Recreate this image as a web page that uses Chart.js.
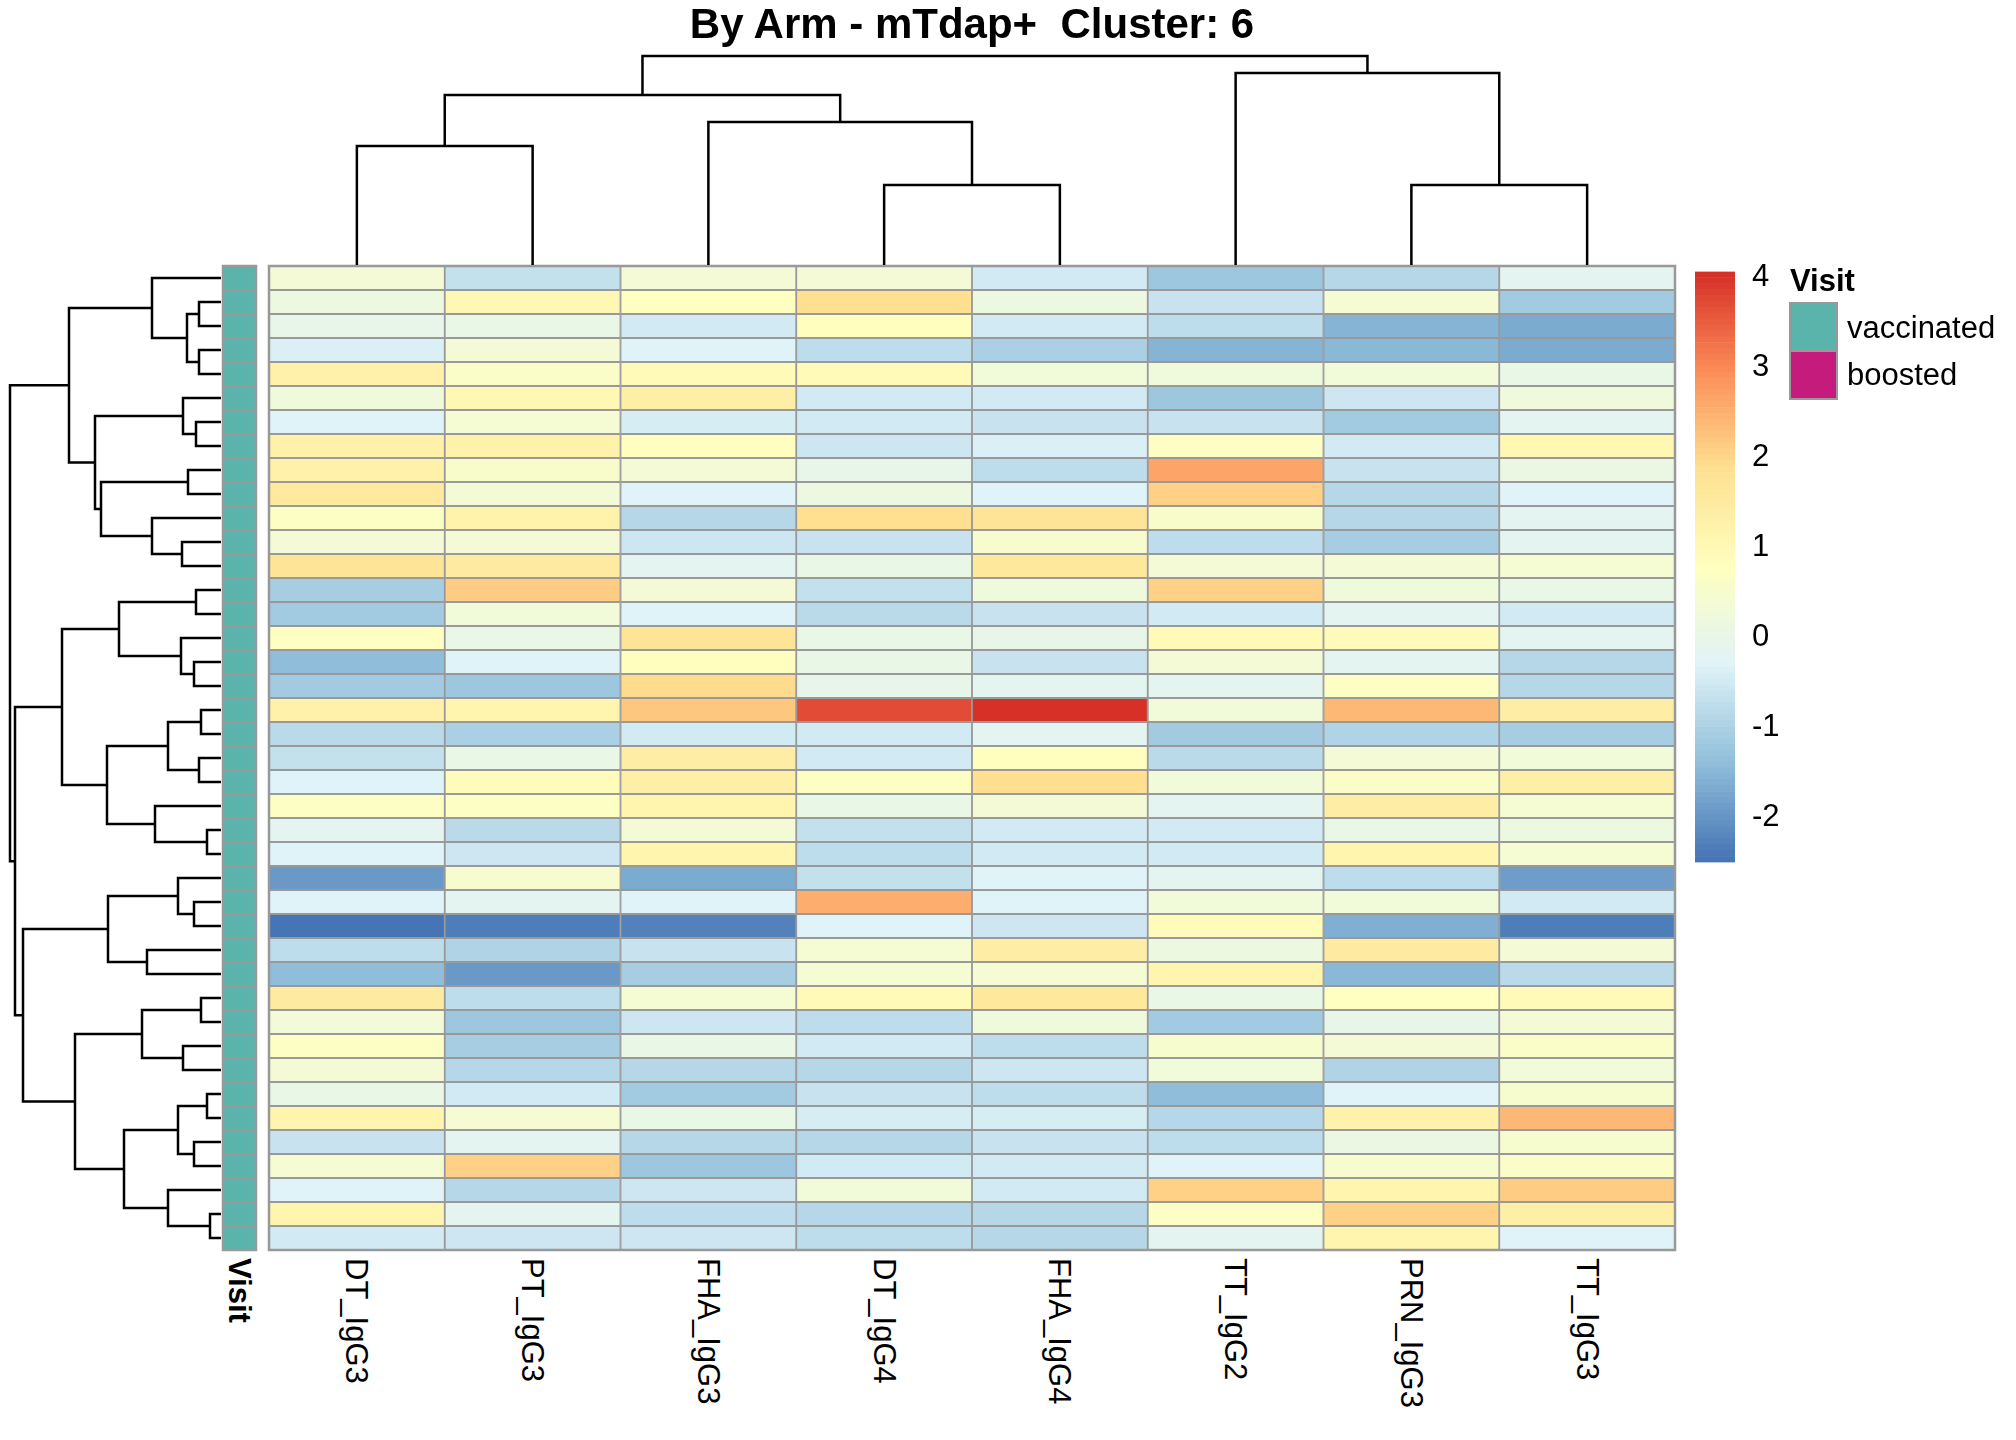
<!DOCTYPE html>
<html><head><meta charset="utf-8">
<script src="https://cdn.jsdelivr.net/npm/chart.js@4.4.1/dist/chart.umd.min.js"></script>
<style>
html,body{margin:0;padding:0;background:#fff;}
body{width:2016px;height:1440px;position:relative;overflow:hidden;font-family:"Liberation Sans",Arial,sans-serif;color:#000;}
.box{position:absolute;}
canvas{display:block;}
.t{position:absolute;white-space:pre;color:#000;}
.vlab{position:absolute;writing-mode:vertical-rl;font-size:31px;line-height:31px;white-space:pre;color:#000;}
</style></head><body>
<script>
// ---------------- data ----------------
const title = 'By Arm - mTdap+  Cluster: 6';
const columns = ['DT_IgG3','PT_IgG3','FHA_IgG3','DT_IgG4','FHA_IgG4','TT_IgG2','PRN_IgG3','TT_IgG3'];
const DT_IgG3  = [0.33,0.18,-0.07,-0.39,1.27,0.20,-0.32,1.27,1.27,1.55,0.69,0.33,1.76,-1.12,-1.17,0.76,-1.44,-1.18,1.27,-0.84,-0.70,-0.31,0.69,-0.14,-0.31,-1.97,-0.31,-2.49,-0.79,-1.44,1.45,0.27,0.69,0.37,0.05,1.13,-0.66,0.43,-0.31,1.13,-0.47];
const PT_IgG3  = [-0.70,1.03,0.05,0.33,0.64,1.03,0.39,1.24,0.58,0.37,1.20,0.37,1.45,2.11,0.27,0.05,-0.31,-1.25,1.13,-1.03,0.05,0.89,0.69,-0.84,-0.59,0.50,-0.14,-2.36,-0.99,-1.93,-0.79,-1.22,-1.06,-0.91,-0.47,0.43,-0.14,2.04,-0.91,-0.14,-0.59];
const FHA_IgG3 = [0.33,0.76,-0.51,-0.32,0.96,1.31,-0.42,0.79,0.33,-0.31,-0.92,-0.59,-0.18,0.33,-0.31,1.73,0.79,1.92,2.20,-0.51,1.38,1.34,1.13,0.37,1.13,-1.70,-0.31,-2.24,-0.62,-1.06,0.43,-0.59,0.05,-0.91,-1.13,0.05,-0.91,-1.25,-0.59,-0.79,-0.59];
const DT_IgG4  = [0.33,1.85,0.80,-0.77,0.96,-0.47,-0.50,-0.59,-0.01,0.18,1.85,-0.66,0.05,-0.70,-0.84,0.05,0.05,-0.07,3.69,-0.51,-0.47,0.69,0.05,-0.70,-0.79,-0.70,2.52,-0.31,0.43,0.43,0.96,-0.79,-0.47,-0.91,-0.66,-0.42,-0.91,-0.47,0.27,-0.91,-0.79];
const FHA_IgG4 = [-0.51,0.18,-0.51,-1.02,0.27,-0.47,-0.62,-0.35,-0.76,-0.31,1.76,0.50,1.59,0.20,-0.62,-0.01,-0.62,-0.14,4.06,-0.18,0.82,1.85,0.33,-0.47,-0.47,-0.31,-0.31,-0.59,1.38,0.40,1.59,0.20,-0.79,-0.59,-0.76,-0.42,-0.66,-0.47,-0.47,-0.91,-0.91];
const TT_IgG2  = [-1.22,-0.62,-0.77,-1.57,0.20,-1.22,-0.62,0.69,2.64,2.04,0.58,-0.79,0.37,2.04,-0.47,0.92,0.37,-0.14,0.27,-1.13,-0.84,0.27,-0.18,-0.51,-0.51,-0.14,0.27,0.89,0.13,1.13,0.05,-1.18,0.50,0.27,-1.40,-0.91,-0.79,-0.31,2.04,0.69,-0.14];
const PRN_IgG3 = [-0.92,0.39,-1.57,-1.49,0.27,-0.59,-1.18,-0.47,-0.62,-0.91,-0.91,-1.06,0.37,0.20,-0.14,0.89,-0.14,0.69,2.39,-0.99,0.33,0.64,1.38,0.05,1.13,-0.79,0.27,-1.63,1.45,-1.50,0.78,-0.01,0.37,-0.99,-0.31,1.20,0.09,0.50,1.13,2.04,1.13];
const TT_IgG3  = [-0.14,-1.18,-1.66,-1.66,0.05,0.20,-0.14,1.10,0.09,-0.31,-0.14,-0.14,0.43,0.05,-0.47,-0.14,-0.91,-0.91,1.38,-1.06,0.27,1.31,0.43,0.13,0.43,-1.86,-0.51,-2.36,0.37,-0.84,0.96,0.37,0.64,0.27,0.50,2.41,0.50,0.64,2.11,1.34,-0.31];
const values = [DT_IgG3, PT_IgG3, FHA_IgG3, DT_IgG4, FHA_IgG4, TT_IgG2, PRN_IgG3, TT_IgG3];

const visit = ['vaccinated','vaccinated','vaccinated','vaccinated','vaccinated','vaccinated','vaccinated','vaccinated','vaccinated','vaccinated',
               'vaccinated','vaccinated','vaccinated','vaccinated','vaccinated','vaccinated','vaccinated','vaccinated','vaccinated','vaccinated',
               'vaccinated','vaccinated','vaccinated','vaccinated','vaccinated','vaccinated','vaccinated','vaccinated','vaccinated','vaccinated',
               'vaccinated','vaccinated','vaccinated','vaccinated','vaccinated','vaccinated','vaccinated','vaccinated','vaccinated','vaccinated',
               'vaccinated'];
const visitLevels = ['vaccinated','boosted'];
const visitColors = ['#5AB4AC','#C51B7D'];

// row dendrogram (hclust style: negative = leaf index (1-based), positive = earlier merge)
const rowMerge = [[-2,-3],[-4,-5],[1,2],[-1,3],[-7,-8],[-6,5],[-9,-10],[-12,-13],[-11,8],[7,9],
                  [6,10],[4,11],[-14,-15],[-17,-18],[-16,14],[13,15],[-19,-20],[-21,-22],[17,18],[-24,-25],
                  [-23,20],[19,21],[16,22],[-27,-28],[-26,24],[-29,-30],[25,26],[-31,-32],[-33,-34],[28,29],
                  [-35,-36],[-37,-38],[31,32],[-40,-41],[-39,34],[33,35],[30,36],[27,37],[23,38],[12,39]];
const rowHeight = [22,22,34,69,25,38,33,39,69,120,126,152,25,27,40,102,20,22,53,14,66,114,159,27,43,74,113,20,38,79,14,27,43,11,53,97,146,198,206,211];
// column dendrogram
const colMerge = [[-1,-2],[-4,-5],[-3,2],[1,3],[-7,-8],[-6,5],[4,6]];
const colHeight = [119,80,143,170,80,192,209];

const legendTicks = [-2,-1,0,1,2,3,4];
const scaleMin = -2.5, scaleMax = 4.065;
const anchorColors = ['#4575B4','#91BFDB','#E0F3F8','#FFFFBF','#FEE090','#FC8D59','#D73027'];

// ---------------- helpers ----------------
const FONT = "'Liberation Sans', Arial, sans-serif";
Chart.defaults.font.family = FONT;
const gridColor = '#999999';
const nRows = DT_IgG3.length;
const rowIdx = visit.map((_, i) => i);

function hexToRgb(h){return [1,3,5].map(i=>parseInt(h.substr(i,2),16));}
const anchorsRgb = anchorColors.map(hexToRgb);
const nColors = 100;
const palette = [];
for (let k = 0; k < nColors; k++) {
  const t = k / (nColors - 1) * (anchorsRgb.length - 1);
  const i = Math.min(Math.floor(t), anchorsRgb.length - 2);
  const f = t - i, a = anchorsRgb[i], b = anchorsRgb[i + 1];
  palette.push('rgb(' + a.map((v, j) => Math.round(v + (b[j] - v) * f)).join(',') + ')');
}
const breaks = [];
for (let k = 0; k <= nColors; k++) breaks.push(scaleMin + (scaleMax - scaleMin) * k / nColors);
function colorFor(v){
  let k = Math.floor((v - scaleMin) / (scaleMax - scaleMin) * nColors);
  k = Math.max(0, Math.min(nColors - 1, k));
  return palette[k];
}

function makeCanvas(left, top, w, h){
  const d = document.createElement('div');
  d.className = 'box';
  Object.assign(d.style, {left: left + 'px', top: top + 'px', width: w + 'px', height: h + 'px'});
  const c = document.createElement('canvas');
  c.width = w; c.height = h; c.style.width = w + 'px'; c.style.height = h + 'px';
  d.appendChild(c); document.body.appendChild(d);
  return c;
}
const baseOpts = {
  responsive: false, animation: false, events: [],
  plugins: {legend: {display: false}, tooltip: {enabled: false}, title: {display: false}}
};
const outerBorder = {
  id: 'outerBorder',
  afterDatasetsDraw(chart){
    const a = chart.chartArea, ctx = chart.ctx;
    ctx.save(); ctx.strokeStyle = gridColor; ctx.lineWidth = 2.5;
    ctx.strokeRect(a.left, a.top, a.right - a.left, a.bottom - a.top);
    ctx.restore();
  }
};

function dendroSegments(merge, heights){
  const pos = [], hgt = [], segs = [];
  const P = k => k < 0 ? (-k - 1) + 0.5 : pos[k - 1];
  const H = k => k < 0 ? 0 : hgt[k - 1];
  merge.forEach(([a, b], i) => {
    const pa = P(a), pb = P(b), ha = H(a), hb = H(b), h = heights[i];
    pos.push((pa + pb) / 2); hgt.push(h);
    segs.push([[pa, ha], [pa, h], [pb, h], [pb, hb]]);
  });
  return segs;
}
function lineDs(points){
  return {data: points, showLine: true, borderColor: '#000', borderWidth: 2.5, pointRadius: 0,
          fill: false, tension: 0, clip: false, borderCapStyle: 'butt', borderJoinStyle: 'miter'};
}

// ---------------- heatmap ----------------
const HM = {left: 267, top: 264, w: 1410, h: 988};
const heat = new Chart(makeCanvas(HM.left, HM.top, HM.w, HM.h), {
  type: 'bar',
  data: {
    labels: columns,
    datasets: rowIdx.map(r => ({
      data: columns.map(() => [r, r + 1]),
      backgroundColor: columns.map((_, c) => colorFor(values[c][r])),
      borderColor: gridColor, borderWidth: 1.25, borderSkipped: false,
      grouped: false, categoryPercentage: 1, barPercentage: 1
    }))
  },
  options: Object.assign({}, baseOpts, {
    layout: {padding: 2},
    scales: {x: {display: false}, y: {display: false, min: 0, max: nRows, reverse: true}}
  }),
  plugins: [outerBorder]
});

// ---------------- annotation column ----------------
const AN = {left: 221, top: 264, w: 37, h: 988};
const annot = new Chart(makeCanvas(AN.left, AN.top, AN.w, AN.h), {
  type: 'bar',
  data: {
    labels: ['Visit'],
    datasets: rowIdx.map(r => ({
      data: [[r, r + 1]],
      backgroundColor: visitColors[visitLevels.indexOf(visit[r])],
      borderColor: gridColor, borderWidth: 1.25, borderSkipped: false,
      grouped: false, categoryPercentage: 1, barPercentage: 1
    }))
  },
  options: Object.assign({}, baseOpts, {
    layout: {padding: 2},
    scales: {x: {display: false}, y: {display: false, min: 0, max: nRows, reverse: true}}
  }),
  plugins: [outerBorder]
});

// ---------------- row dendrogram ----------------
new Chart(makeCanvas(0, 266, 221, 984), {
  type: 'scatter',
  data: {datasets: dendroSegments(rowMerge, rowHeight).map(s => lineDs(s.map(([p, h]) => ({x: h, y: p}))))},
  options: Object.assign({}, baseOpts, {
    scales: {x: {display: false, type: 'linear', min: 0, max: 221, reverse: true},
             y: {display: false, type: 'linear', min: 0, max: nRows, reverse: true}}
  })
});

// ---------------- column dendrogram ----------------
new Chart(makeCanvas(269, 40, 1406, 225), {
  type: 'scatter',
  data: {datasets: dendroSegments(colMerge, colHeight).map(s => lineDs(s.map(([p, h]) => ({x: p, y: h}))))},
  options: Object.assign({}, baseOpts, {
    scales: {x: {display: false, type: 'linear', min: 0, max: columns.length},
             y: {display: false, type: 'linear', min: 0, max: 225}}
  })
});

// ---------------- colour bar ----------------
new Chart(makeCanvas(1695, 236, 120, 662), {
  type: 'bar',
  data: {
    labels: [''],
    datasets: palette.map((col, i) => ({
      data: [[breaks[i], breaks[i + 1]]], backgroundColor: col, borderWidth: 0,
      grouped: false, categoryPercentage: 1, barPercentage: 1
    }))
  },
  options: Object.assign({}, baseOpts, {
    layout: {padding: {top: 30, bottom: 30, left: 0, right: 0}},
    scales: {
      x: {display: false},
      y: {position: 'right', min: scaleMin, max: scaleMax,
          grid: {display: false, drawTicks: false}, border: {display: false},
          ticks: {color: '#000', font: {size: 31, family: FONT}, padding: 17},
          afterBuildTicks: s => { s.ticks = legendTicks.map(v => ({value: v})); },
          afterFit: s => { s.width = 80; }}
    }
  })
});

// ---------------- texts ----------------
function addText(txt, left, top, size, bold, extra){
  const d = document.createElement('div');
  d.className = 't'; d.textContent = txt;
  Object.assign(d.style, {left: left + 'px', top: top + 'px', fontSize: size + 'px', lineHeight: size + 'px',
                          fontWeight: bold ? 'bold' : 'normal'}, extra || {});
  document.body.appendChild(d); return d;
}
// title centred over heatmap
const hmCenter = HM.left + (heat.chartArea.left + heat.chartArea.right) / 2;
addText(title, hmCenter, 3, 42, true, {transform: 'translateX(-50%)'});

// column labels
columns.forEach((name, i) => {
  const d = document.createElement('div');
  d.className = 'vlab'; d.textContent = name;
  const x = HM.left + heat.scales.x.getPixelForValue(i);
  Object.assign(d.style, {left: (x - 15.5) + 'px', top: '1258px'});
  document.body.appendChild(d);
});
// annotation label
{
  const d = document.createElement('div');
  d.className = 'vlab'; d.textContent = 'Visit';
  const x = AN.left + annot.scales.x.getPixelForValue(0);
  Object.assign(d.style, {left: (x - 15.5) + 'px', top: '1258px', fontWeight: 'bold'});
  document.body.appendChild(d);
}

// annotation legend
addText('Visit', 1790, 265, 31, true);
visitLevels.forEach((lev, i) => {
  const b = document.createElement('div');
  Object.assign(b.style, {position: 'absolute', left: '1789px', top: (302 + i * 48) + 'px', width: '49px', height: '50px',
    boxSizing: 'border-box', border: '2px solid ' + gridColor, background: visitColors[i]});
  document.body.appendChild(b);
  addText(lev, 1847, 312 + i * 47, 31, false);
});
</script>
</body></html>
